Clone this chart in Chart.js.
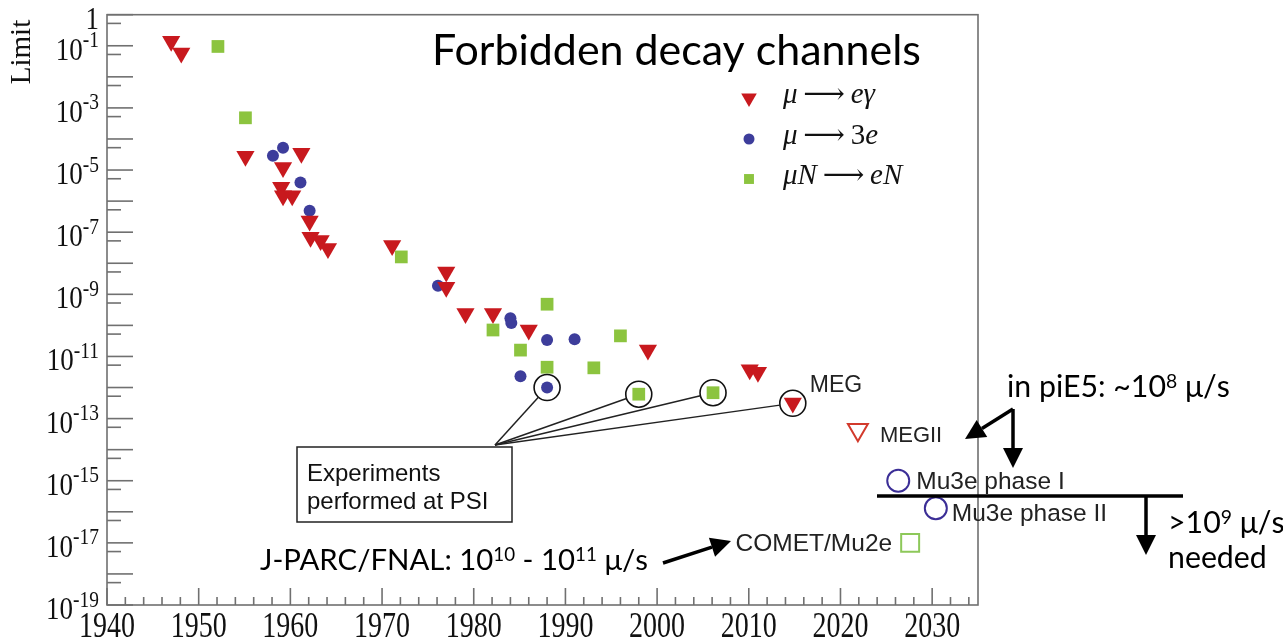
<!DOCTYPE html>
<html>
<head>
<meta charset="utf-8">
<title>Forbidden decay channels</title>
<script src="https://cdn.jsdelivr.net/npm/chart.js@4.4.1/dist/chart.umd.min.js"></script>
<style>
  html, body { margin: 0; padding: 0; background: #fff; }
  #chart { display: block; }
</style>
</head>
<body>
<canvas id="chart" width="1283" height="641"></canvas>
<script>
// Axis ranges and tick labels
const yearMin = 1940, yearMax = 2035;
const xTickYears = [1940, 1950, 1960, 1970, 1980, 1990, 2000, 2010, 2020, 2030];
const yLabelValues = [1, 1e-1, 1e-3, 1e-5, 1e-7, 1e-9, 1e-11, 1e-13, 1e-15, 1e-17, 1e-19];
const yLabelTexts = ['1', '10^{-1}', '10^{-3}', '10^{-5}', '10^{-7}', '10^{-9}', '10^{-11}', '10^{-13}', '10^{-15}', '10^{-17}', '10^{-19}'];

// Series names (legend)
const seriesLabels = ['μ → eγ', 'μ → 3e', 'μN → eN'];

// μ → eγ
const megYears  = [1947.0, 1948.1, 1955.1, 1959.0, 1959.2, 1960.2, 1959.2, 1961.2, 1962.1, 1962.2, 1963.3, 1964.1, 1971.1, 1977.0, 1977.0, 1979.1, 1982.1, 1986.0, 1999.0, 2010.1, 2011.0, 2014.8];
const megLimits = [1.4e-1, 5.9e-2, 2.8e-5, 2.8e-6, 1.5e-6, 1.5e-6, 1.2e-5, 3.5e-5, 2.3e-7, 6.9e-8, 5.4e-8, 3.0e-8, 3.7e-8, 5.2e-9, 1.7e-9, 2.4e-10, 2.4e-10, 7.1e-11, 1.6e-11, 3.7e-12, 3.1e-12, 3.2e-13];

// μ → 3e
const eeeYears  = [1958.1, 1959.2, 1961.1, 1962.1, 1976.1, 1984.0, 1984.1, 1988.0, 1991.0, 1985.1, 1988.0];
const eeeLimits = [2.9e-5, 5.2e-5, 4.0e-6, 4.9e-7, 1.9e-9, 1.7e-10, 1.2e-10, 3.4e-11, 3.6e-11, 2.3e-12, 1.0e-12];

// μN → eN
const convYears  = [1952.1, 1955.1, 1972.1, 1982.1, 1988.0, 1985.1, 1988.0, 1993.1, 1996.0, 1998.0, 2006.1];
const convLimits = [9.5e-2, 4.8e-4, 1.6e-8, 7.1e-11, 4.8e-10, 1.6e-11, 4.5e-12, 4.3e-12, 4.6e-11, 6.1e-13, 6.8e-13];

// Experiments performed at PSI (circled)
const psiYears  = [1988.0, 1998.0, 2006.1, 2014.8];
const psiLimits = [1.0e-12, 6.1e-13, 6.8e-13, 3.1e-13];

// Planned experiments
const projLabels = ['MEGII', 'Mu3e phase I', 'Mu3e phase II', 'COMET/Mu2e'];
const projYears  = [2021.9, 2026.3, 2030.4, 2027.6];
const projLimits = [4.4e-14, 1.0e-15, 1.3e-16, 1.0e-17];

// Texts on the slide
const titleText = 'Forbidden decay channels';
const psiBoxLines = ['Experiments', 'performed at PSI'];
const jparcText = 'J-PARC/FNAL: 10^{10} - 10^{11} μ/s';
const pie5Text = 'in piE5: ~10^{8} μ/s';
const neededLines = ['>10^{9} μ/s', 'needed'];

const RED = '#c8191e', BLUE = '#3d3d9b', GREEN = '#8cc43f';

function pts(xs, ys) {
    return xs.map((x, i) => ({ x: x, y: ys[i] }));
}

// text with ^{...} superscripts
function splitSup(text) {
    const out = [];
    const re = /\^\{([^}]*)\}/g;
    let last = 0, m;
    while ((m = re.exec(text)) !== null) {
        if (m.index > last) out.push([text.slice(last, m.index), false]);
        out.push([m[1], true]);
        last = re.lastIndex;
    }
    if (last < text.length) out.push([text.slice(last), false]);
    return out;
}

function richWidth(ctx, text, family, size, supScale) {
    let w = 0;
    splitSup(text).forEach(([t, sup]) => {
        ctx.font = `${sup ? size * supScale : size}px ${family}`;
        w += ctx.measureText(t).width;
    });
    return w;
}

function drawRich(ctx, text, x, y, o) {
    const parts = splitSup(text);
    const w = richWidth(ctx, text, o.family, o.size, o.supScale);
    let cx = o.align === 'right' ? x - w : (o.align === 'center' ? x - w / 2 : x);
    ctx.textAlign = 'left';
    ctx.textBaseline = 'alphabetic';
    parts.forEach(([t, sup]) => {
        ctx.font = `${sup ? o.size * o.supScale : o.size}px ${o.family}`;
        ctx.fillText(t, cx, sup ? y - o.size * o.supRaise : y);
        cx += ctx.measureText(t).width;
    });
}

// font size that gives the text a given width
function fitSize(ctx, text, family, supScale, width) {
    return 100 * width / richWidth(ctx, text, family, 100, supScale);
}

function arrow(ctx, x1, y1, x2, y2, head) {
    const ang = Math.atan2(y2 - y1, x2 - x1);
    const bx = x2 - Math.cos(ang) * head, by = y2 - Math.sin(ang) * head;
    ctx.beginPath();
    ctx.moveTo(x1, y1);
    ctx.lineTo(bx, by);
    ctx.stroke();
    ctx.beginPath();
    ctx.moveTo(x2, y2);
    ctx.lineTo(bx + Math.sin(ang) * head * 0.5, by - Math.cos(ang) * head * 0.5);
    ctx.lineTo(bx - Math.sin(ang) * head * 0.5, by + Math.cos(ang) * head * 0.5);
    ctx.closePath();
    ctx.fill();
}

function line(ctx, x1, y1, x2, y2) {
    ctx.beginPath();
    ctx.moveTo(x1, y1);
    ctx.lineTo(x2, y2);
    ctx.stroke();
}

// frame and inward ticks
const framePlugin = {
    id: 'framePlugin',
    beforeDatasetsDraw(chart) {
        const { ctx, chartArea: a, scales: { x, y } } = chart;
        ctx.save();
        ctx.strokeStyle = '#707070';
        ctx.lineWidth = 1.6;
        ctx.strokeRect(a.left, a.top, a.right - a.left, a.bottom - a.top);
        for (let e = 0; e >= -19; e--) {
            const py = y.getPixelForValue(Math.pow(10, e));
            line(ctx, a.left, py, a.left + 26, py);
            if (e > -19) {
                const ps = y.getPixelForValue(Math.pow(10, e - 0.28));
                line(ctx, a.left, ps, a.left + 14, ps);
            }
        }
        for (let yr = yearMin; yr < yearMax; yr += 2) {
            const px = x.getPixelForValue(yr);
            line(ctx, px, a.bottom, px, a.bottom - (yr % 10 === 0 ? 17 : 8));
        }
        ctx.restore();
    }
};

const labelsPlugin = {
    id: 'labelsPlugin',
    afterDraw(chart) {
        const { ctx, chartArea: a, scales: { x, y } } = chart;
        const serif = "'Liberation Serif', 'DejaVu Serif', serif";
        const sans = "'Liberation Sans', Arial, sans-serif";
        const slide = "Lato, 'Open Sans', sans-serif";
        ctx.save();
        ctx.fillStyle = '#111';

        // y tick labels
        yLabelValues.forEach((v, i) => {
            const py = y.getPixelForValue(v);
            ctx.save();
            ctx.translate(a.left - 8, py + 14);
            ctx.scale(1, 1.15);
            drawRich(ctx, yLabelTexts[i], 0, 0, { family: serif, size: 27, supScale: 0.72, supRaise: 0.4, align: 'right' });
            ctx.restore();
        });

        // x tick labels
        xTickYears.forEach(yr => {
            const px = x.getPixelForValue(yr);
            ctx.save();
            ctx.translate(px, 637);
            ctx.scale(1, 1.3);
            ctx.font = `28px ${serif}`;
            ctx.textAlign = 'center';
            ctx.fillText(String(yr), 0, 0);
            ctx.restore();
        });

        // y axis title
        ctx.save();
        ctx.translate(30, 52);
        ctx.rotate(-Math.PI / 2);
        ctx.font = `29px ${serif}`;
        ctx.textAlign = 'center';
        ctx.fillText('Limit', 0, 0);
        ctx.restore();

        // legend: rows follow seriesLabels (datasets 3, 4, 2)
        const ds = chart.data.datasets;
        const legendRows = [98, 139, 179];
        [3, 4, 2].forEach((di, i) => {
            const d = ds[di];
            ctx.save();
            ctx.fillStyle = d.backgroundColor;
            ctx.strokeStyle = d.backgroundColor;
            Chart.helpers.drawPoint(ctx, {
                pointStyle: d.pointStyle, rotation: d.rotation || 0,
                radius: [9, 5.5, 7][i], borderWidth: 0
            }, 749, legendRows[i]);
            ctx.restore();
            let cx = 783;
            ctx.textAlign = 'left';
            for (const ch of seriesLabels[i]) {
                const upright = /[0-9 →]/.test(ch);
                ctx.font = `${upright ? '' : 'italic '}29px ${serif}`;
                let t = ch === '→' ? '⟶' : ch;
                if (ch === ' ') t = '\u2009';
                ctx.fillText(t, cx, legendRows[i] + 5);
                cx += ctx.measureText(t).width;
            }
        });

        // title
        const ts = fitSize(ctx, titleText, slide, 0.65, 489);
        ctx.fillStyle = '#000';
        drawRich(ctx, titleText, 432, 65, { family: slide, size: ts, supScale: 0.65, supRaise: 0.3 });

        // PSI box and lines to circles
        ctx.strokeStyle = '#222';
        ctx.lineWidth = 1.5;
        ctx.strokeRect(297, 447, 215, 75);
        ctx.fillStyle = '#111';
        ctx.font = `24px ${sans}`;
        ctx.textAlign = 'left';
        ctx.fillText(psiBoxLines[0], 307, 481);
        ctx.fillText(psiBoxLines[1], 307, 509);
        const ax = 495, ay = 445;
        psiYears.forEach((yr, i) => {
            const cx = x.getPixelForValue(yr), cy = y.getPixelForValue(psiLimits[i]);
            const dx = ax - cx, dy = ay - cy, len = Math.hypot(dx, dy);
            line(ctx, ax, ay, cx + dx / len * 13, cy + dy / len * 13);
        });

        // experiment labels
        ctx.fillStyle = '#222';
        ctx.font = `23px ${sans}`;
        const mx = x.getPixelForValue(psiYears[3]), my = y.getPixelForValue(psiLimits[3]);
        ctx.fillText('MEG', mx + 17, my - 11);
        const offs = [[22, 12.5], [18, 8], [16, 13]];
        const sizes = [22, 24.5, 24.5];
        for (let i = 0; i < 3; i++) {
            const px = x.getPixelForValue(projYears[i]), py = y.getPixelForValue(projLimits[i]);
            ctx.font = `${sizes[i]}px ${sans}`;
            ctx.fillText(projLabels[i], px + offs[i][0], py + offs[i][1]);
        }
        const cpx = x.getPixelForValue(projYears[3]), cpy = y.getPixelForValue(projLimits[3]);
        ctx.textAlign = 'right';
        ctx.font = `24.5px ${sans}`;
        ctx.fillText(projLabels[3], cpx - 18, cpy + 8);

        // slide texts
        ctx.fillStyle = '#000';
        const js = fitSize(ctx, jparcText, slide, 0.64, 388);
        drawRich(ctx, jparcText, 260, 570, { family: slide, size: js, supScale: 0.64, supRaise: 0.3 });
        const ps = fitSize(ctx, pie5Text, slide, 0.64, 223);
        drawRich(ctx, pie5Text, 1007, 397, { family: slide, size: ps, supScale: 0.64, supRaise: 0.3 });
        drawRich(ctx, neededLines[0], 1168, 533, { family: slide, size: ps, supScale: 0.64, supRaise: 0.3 });
        drawRich(ctx, neededLines[1], 1168, 568, { family: slide, size: ps, supScale: 0.64, supRaise: 0.3 });

        // arrows and the rate line
        ctx.strokeStyle = '#000';
        ctx.fillStyle = '#000';
        ctx.lineWidth = 3.5;
        arrow(ctx, 1013, 409, 965, 439, 20);
        arrow(ctx, 1013, 409, 1013, 468, 20);
        line(ctx, 877, 496, 1183, 496);
        arrow(ctx, 1146, 496, 1146, 555, 20);
        arrow(ctx, 663, 563, 731, 541, 20);
        ctx.restore();
    }
};

new Chart(document.getElementById('chart'), {
    type: 'scatter',
    data: {
        datasets: [
            {
                label: 'PSI',
                data: pts(psiYears, psiLimits),
                pointStyle: 'circle',
                pointRadius: 13,
                backgroundColor: 'rgba(0,0,0,0)',
                borderColor: '#111',
                borderWidth: 1.6
            },
            {
                label: 'planned',
                data: pts(projYears, projLimits),
                pointStyle: ['triangle', 'circle', 'circle', 'rect'],
                rotation: [180, 0, 0, 0],
                pointRadius: [11.5, 11, 11, 12.7],
                backgroundColor: 'rgba(0,0,0,0)',
                borderColor: ['#d23a2c', '#3b2e96', '#3b2e96', '#8dc85a'],
                borderWidth: 2
            },
            {
                label: seriesLabels[2],
                data: pts(convYears, convLimits),
                pointStyle: 'rect',
                pointRadius: 9,
                backgroundColor: GREEN,
                borderWidth: 0
            },
            {
                label: seriesLabels[0],
                data: pts(megYears, megLimits),
                pointStyle: 'triangle',
                rotation: 180,
                pointRadius: 10.5,
                backgroundColor: RED,
                borderWidth: 0
            },
            {
                label: seriesLabels[1],
                data: pts(eeeYears, eeeLimits),
                pointStyle: 'circle',
                pointRadius: 6,
                backgroundColor: BLUE,
                borderWidth: 0
            }
        ]
    },
    options: {
        responsive: false,
        devicePixelRatio: 1,
        animation: false,
        clip: false,
        layout: { padding: { left: 107, right: 305, top: 12, bottom: 36 } },
        datasets: { scatter: { clip: false } },
        scales: {
            x: { type: 'linear', min: yearMin, max: yearMax, display: false },
            y: { type: 'logarithmic', min: 1e-19, max: 1, display: false }
        },
        plugins: {
            legend: { display: false },
            tooltip: { enabled: false }
        }
    },
    plugins: [framePlugin, labelsPlugin]
});
</script>
</body>
</html>
